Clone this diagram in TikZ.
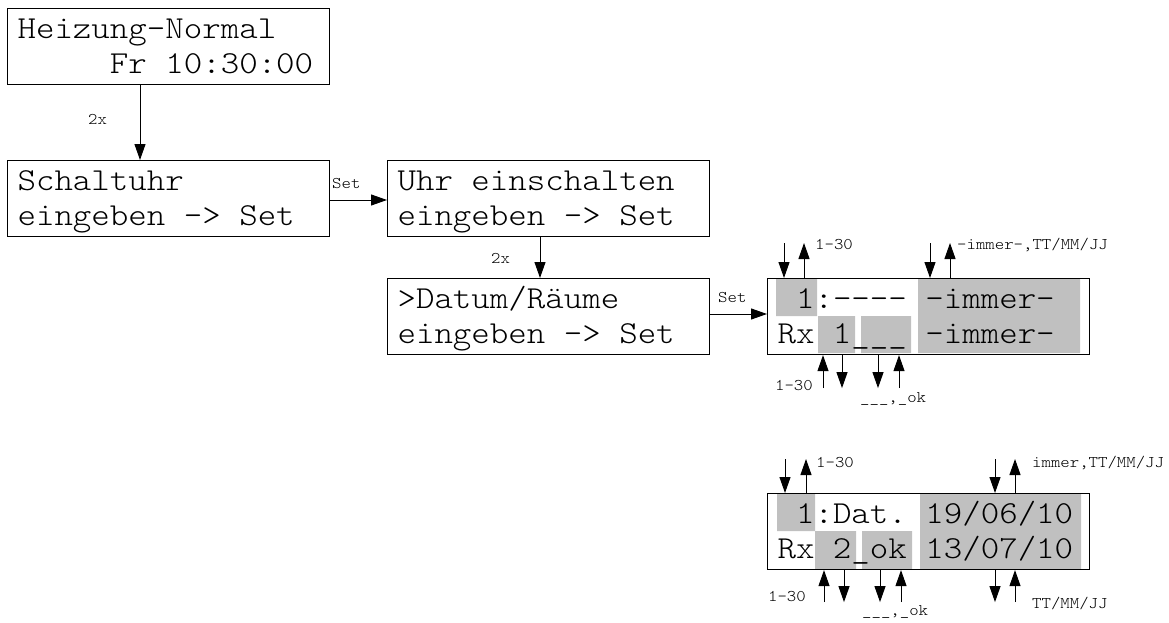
\documentclass[tikz,border=0pt]{standalone}
\usepackage{fontspec}
\newfontfamily\lcdfont{lmmonolt10-regular.otf}[FakeStretch=1.1]
\DeclareRobustCommand\lcdgross{\lcdfont\fontsize{32}{35}\selectfont}
\DeclareRobustCommand\lcdklein{\lcdfont\fontsize{16.3}{18}\selectfont}
\newcommand\lz{\hphantom{0}}
\usepackage{tikz}
\usetikzlibrary{arrows.meta,backgrounds}
\definecolor{lcdgrau}{RGB}{192,192,192}

\begin{document}
\begin{tikzpicture}[x=1pt,y=-1pt,
  feld/.style={draw,line width=1.1pt,anchor=north west,inner xsep=10pt,inner ysep=0pt,
    text width=302pt,align=left,text height=30pt,text depth=46pt,font=\lcdgross},
  klein/.style={inner sep=0pt,font=\lcdklein},
  pf/.style={line width=1pt,-{Triangle[length=16pt,width=11pt]}}]
\useasboundingbox (0,0) rectangle (1169,623);

% Menue
\node[feld] (heiz) at (7,8) {Heizung-Normal\\\lz\lz\lz\lz\lz Fr\lz 10:30:00};
\node[feld] (schalt) at (7,160) {Schaltuhr\\eingeben\lz ->\lz Set};
\node[feld] (uhr) at (387,159.5) {Uhr\lz einschalten\\eingeben\lz ->\lz Set};
\node[feld] (datum) at (387,278) {>Datum/Räume\\eingeben\lz ->\lz Set};

\draw[pf] (heiz.south -| 140,0) -- (schalt.north -| 140,0);
\node[klein,anchor=west] (n2xa) at (88,119) {2x};
\draw[pf] (schalt.east |- 0,200) -- (uhr.west |- 0,200);
\node[klein,anchor=west] (nseta) at (332,184) {Set};
\draw[pf] (uhr.south -| 540,0) -- (datum.north -| 540,0);
\node[klein,anchor=west] (n2xb) at (491,258) {2x};

% Anzeige 1
\fill[lcdgrau] (776,278) rectangle (817,316) (818,316) rectangle (855,353)
  (861,316) rectangle (911,353) (918,278) rectangle (1080,353);
\node[feld] (lcdA) at (767,278) {\lz 1:-{}-{}-{}-\lz -immer-\\Rx\lz 1\_\_\_\lz -immer-};
\draw[pf] (datum.east |- 0,314) -- (lcdA.west |- 0,314);
\node[klein,anchor=west] (nsetb) at (718,297.5) {Set};

\foreach \dx in {17,163}
  \draw[pf] ([xshift=\dx pt,yshift=35pt]lcdA.north west) -- ([xshift=\dx pt]lcdA.north west);
\foreach \dx in {37,183}
  \draw[pf] ([xshift=\dx pt]lcdA.north west) -- ([xshift=\dx pt,yshift=35pt]lcdA.north west);
\foreach \dx in {56,132}
  \draw[pf] ([xshift=\dx pt,yshift=-33pt]lcdA.south west) -- ([xshift=\dx pt]lcdA.south west);
\foreach \dx in {75,111}
  \draw[pf] ([xshift=\dx pt]lcdA.south west) -- ([xshift=\dx pt,yshift=-33pt]lcdA.south west);
\node[klein,anchor=west] (lA1) at (815,245) {1-30};
\node[klein,anchor=west] (lA2) at (957,245) {-immer-,TT/MM/JJ};
\node[klein,anchor=east] (lA3) at (813,386) {1-30};
\node[klein,anchor=base west] (lA4) at (860,402) {\_\_\_,\_ok};

% Anzeige 2
\fill[lcdgrau] (777,493) rectangle (815,531) (815,531) rectangle (856,569)
  (862,531) rectangle (912,569) (920,493) rectangle (1081,569);
\node[feld] (lcdB) at (767,493) {\lz 1:Dat.\lz 19/06/10\\Rx\lz 2\_ok\lz 13/07/10};

\foreach \dx in {18,228}
  \draw[pf] ([xshift=\dx pt,yshift=34pt]lcdB.north west) -- ([xshift=\dx pt]lcdB.north west);
\foreach \dx in {39,248}
  \draw[pf] ([xshift=\dx pt]lcdB.north west) -- ([xshift=\dx pt,yshift=34pt]lcdB.north west);
\foreach \dx in {57,134,248}
  \draw[pf] ([xshift=\dx pt,yshift=-32pt]lcdB.south west) -- ([xshift=\dx pt]lcdB.south west);
\foreach \dx in {77,113,228}
  \draw[pf] ([xshift=\dx pt]lcdB.south west) -- ([xshift=\dx pt,yshift=-32pt]lcdB.south west);
\node[klein,anchor=west] (lB1) at (816,463) {1-30};
\node[klein,anchor=west] (lB2) at (1032,463) {immer,TT/MM/JJ};
\node[klein,anchor=east] (lB3) at (806,597) {1-30};
\node[klein,anchor=base west] (lB4) at (862,615) {\_\_\_,\_ok};
\node[klein,anchor=west] (lB5) at (1032,604) {TT/MM/JJ};
\end{tikzpicture}
\end{document}
